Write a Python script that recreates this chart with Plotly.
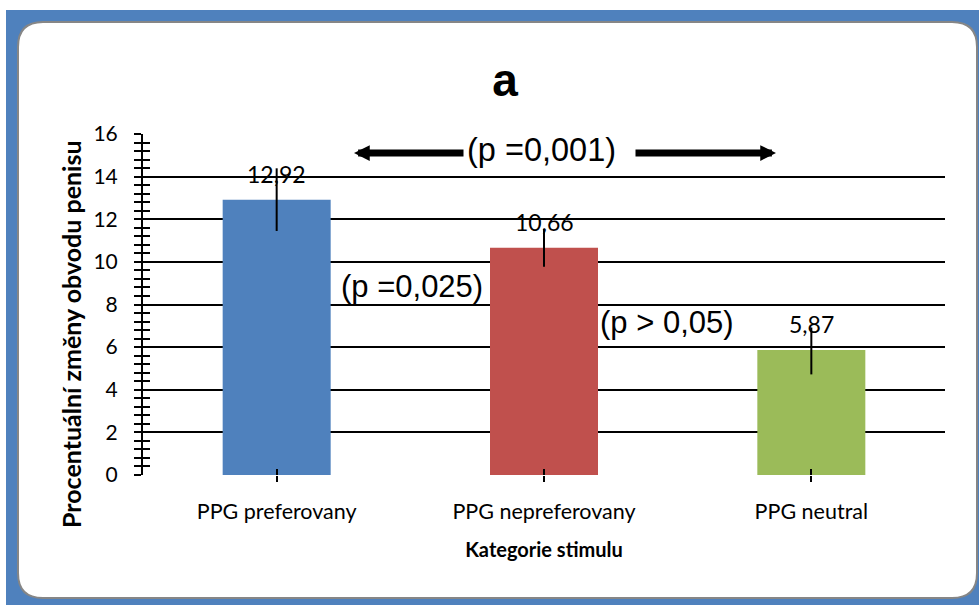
import plotly.graph_objects as go

categories = ["PPG preferovany", "PPG nepreferovany", "PPG neutral"]
values = [12.92, 10.66, 5.87]
err_plus = [1.47, 0.89, 1.05]
err_minus = [1.47, 0.89, 1.15]
bar_colors = ["#4F81BD", "#C0504D", "#9BBB59"]
y_ticks = [0, 2, 4, 6, 8, 10, 12, 14, 16]
title_text = "a"
y_title = "Procentuální změny obvodu penisu"
x_title = "Kategorie stimulu"
p_labels = ["(p =0,001)", "(p =0,025)", "(p > 0,05)"]

W, H = 979, 605
L, R, T, B = 143, 34, 134, 130
PW, PH = W - L - R, H - T - B


def px(x):
    return (x - L) / PW


def py(y):
    return (H - B - y) / PH


CAL = "Lato, Carlito, Calibri, sans-serif"
ARI = "Liberation Sans, Arial, sans-serif"

fig = go.Figure()
fig.add_trace(go.Bar(
    x=categories, y=values,
    marker=dict(color=bar_colors, line=dict(width=0)),
    error_y=dict(type="data", symmetric=False, array=err_plus, arrayminus=err_minus,
                 color="black", thickness=2, width=0),
    hoverinfo="skip",
))

# value labels above bars
for c, v in zip(categories, values):
    fig.add_annotation(x=c, y=v, text=f"{v:.2f}".replace(".", ","), showarrow=False,
                       yshift=26, font=dict(family=CAL, size=23, color="black"))

# p-value annotations
p_pos = [(541, 150, 32.5), (412, 286, 31), (667, 322, 31)]
for t, (xx, yy, fs) in zip(p_labels, p_pos):
    fig.add_annotation(xref="paper", yref="paper", x=px(xx), y=py(yy), text=t,
                       showarrow=False, xanchor="center", yanchor="middle",
                       font=dict(family=ARI, size=fs, color="black"))

# arrows
for tip, dx in [(354, 111), (776, -142)]:
    fig.add_annotation(xref="paper", yref="paper", x=px(tip), y=py(153), ax=dx, ay=0,
                       text="", showarrow=True, arrowhead=2, arrowsize=0.45,
                       arrowwidth=7, arrowcolor="black", standoff=0)

# y axis title as rotated annotation
fig.add_annotation(xref="paper", yref="paper", x=px(71), y=py(334), text=f"<b>{y_title}</b>",
                   textangle=-90, showarrow=False, xanchor="center", yanchor="middle",
                   font=dict(family=CAL, size=25, color="black"))

# frame: blue border and white rounded panel
fig.add_shape(type="rect", xref="paper", yref="paper", layer="below",
              x0=px(6), x1=px(990), y0=py(10), y1=py(615),
              fillcolor="#4F81BD", line=dict(width=0))
x0, x1, y0, y1 = px(18), px(977), py(22), py(598)
rx, ry = 25 / PW, 25 / PH
path = (f"M {x0+rx},{y0} L {x1-rx},{y0} Q {x1},{y0} {x1},{y0-ry} "
        f"L {x1},{y1+ry} Q {x1},{y1} {x1-rx},{y1} L {x0+rx},{y1} "
        f"Q {x0},{y1} {x0},{y1+ry} L {x0},{y0-ry} Q {x0},{y0} {x0+rx},{y0} Z")
fig.add_shape(type="path", xref="paper", yref="paper", layer="below", path=path,
              fillcolor="white", line=dict(color="#868686", width=2))

fig.update_layout(
    width=W, height=H, margin=dict(l=L, r=R, t=T, b=B, pad=0),
    paper_bgcolor="white", plot_bgcolor="white", showlegend=False,
    bargap=0.596,
    title=dict(text=f"<b>{title_text}</b>", x=505 / W, y=1 - 80 / H, xanchor="center",
               yanchor="middle", font=dict(family=ARI, size=46, color="black")),
    xaxis=dict(showgrid=False, showline=False, zeroline=False,
               ticks="outside", ticklen=6, tickwidth=2, tickcolor="black",
               tickfont=dict(family=CAL, size=21.5, color="black"), ticklabelstandoff=11,
               title=dict(text=f"<b>{x_title}</b>", standoff=20,
                          font=dict(family=CAL, size=20, color="black"))),
    xaxis2=dict(overlaying="x", anchor="y", side="bottom", matches="x",
                showgrid=False, showline=False, zeroline=False, showticklabels=False,
                ticks="inside", ticklen=6, tickwidth=2, tickcolor="black"),
    yaxis=dict(range=[0, 16], tickvals=y_ticks, showgrid=True, gridcolor="black",
               gridwidth=1.8, zeroline=False, showline=True, linecolor="black", linewidth=2,
               ticks="outside", ticklen=7, tickwidth=2, tickcolor="black",
               minor=dict(dtick=0.4, tick0=0, ticks="outside", ticklen=7, tickwidth=2,
                          tickcolor="black", showgrid=False),
               tickfont=dict(family=CAL, size=21, color="black"), ticklabelstandoff=12),
    yaxis2=dict(overlaying="y", anchor="x", side="left", range=[0, 16], tickvals=y_ticks,
                showgrid=False, zeroline=False, showline=False, showticklabels=False,
                ticks="inside", ticklen=7, tickwidth=2, tickcolor="black",
                minor=dict(dtick=0.4, tick0=0, ticks="inside", ticklen=7, tickwidth=2,
                           tickcolor="black", showgrid=False)),
)
# invisible copy so the overlay axes (inner halves of the crossing ticks) are drawn
fig.add_trace(go.Bar(x=categories, y=values, xaxis="x2", yaxis="y2", opacity=0,
                     hoverinfo="skip", marker=dict(line=dict(width=0)), showlegend=False))
fig.write_html("out.html", config={"displayModeBar": False},
               post_script="document.body.style.margin='0';document.body.style.overflow='hidden';")
